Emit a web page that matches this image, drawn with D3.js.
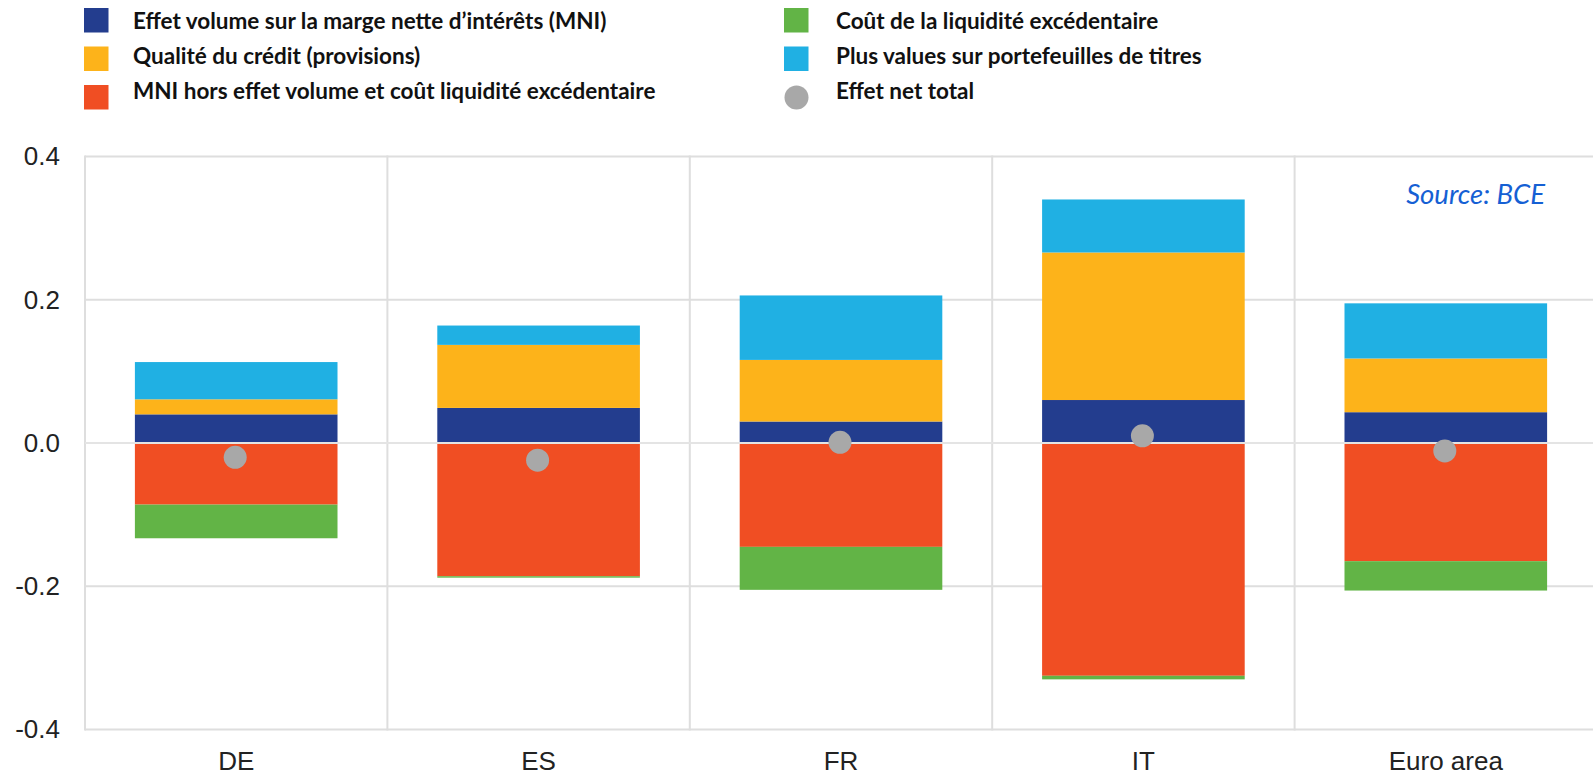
<!DOCTYPE html>
<html>
<head>
<meta charset="utf-8">
<script src="https://cdn.jsdelivr.net/npm/d3@7"></script>
<style>
  html, body { margin: 0; padding: 0; background: #ffffff; }
  svg { display: block; }
</style>
</head>
<body>
<svg id="chart" width="1593" height="776"></svg>
<script>
// Contributions to bank profitability, by country
const categories = ["DE", "ES", "FR", "IT", "Euro area"];
const volumeEffect    = [0.040, 0.049, 0.030, 0.060, 0.043];
const creditQuality   = [0.021, 0.088, 0.086, 0.206, 0.075];
const nimExVolume     = [-0.086, -0.186, -0.145, -0.325, -0.165];
const excessLiquidity = [-0.047, -0.002, -0.060, -0.005, -0.041];
const securitiesGains = [0.052, 0.027, 0.090, 0.074, 0.077];
const netEffect       = [-0.020, -0.024, 0.001, 0.010, -0.011];

const yTicks = [0.4, 0.2, 0.0, -0.2, -0.4];
const yTickLabels = ["0.4", "0.2", "0.0", "-0.2", "-0.4"];

const seriesKeys = ["volume", "credit", "nim", "liquidity", "securities"];
const seriesLabels = {
  volume: "Effet volume sur la marge nette d\u2019intérêts (MNI)",
  credit: "Qualité du crédit (provisions)",
  nim: "MNI hors effet volume et coût liquidité excédentaire",
  liquidity: "Coût de la liquidité excédentaire",
  securities: "Plus values sur portefeuilles de titres"
};
const netLabel = "Effet net total";
const sourceLabel = "Source: BCE";

const colors = {
  volume: "#233d8e",
  credit: "#fdb31a",
  nim: "#f04e23",
  liquidity: "#62b446",
  securities: "#20b0e3",
  net: "#a8a8a8"
};

const rows = categories.map((c, i) => ({
  category: c,
  volume: volumeEffect[i],
  credit: creditQuality[i],
  nim: nimExVolume[i],
  liquidity: excessLiquidity[i],
  securities: securitiesGains[i],
  net: netEffect[i]
}));

const svg = d3.select("#chart");

const plot = { left: 85, right: 1597, top: 156.5, bottom: 729.5 };

const x = d3.scaleBand()
  .domain(categories)
  .range([plot.left, plot.right])
  .paddingInner(0)
  .paddingOuter(0);

const y = d3.scaleLinear()
  .domain([-0.4, 0.4])
  .range([plot.bottom, plot.top]);

const gridColor = "#dedede";

// Horizontal grid
svg.append("g")
  .selectAll("line")
  .data(yTicks)
  .join("line")
  .attr("x1", plot.left)
  .attr("x2", plot.right)
  .attr("y1", d => y(d))
  .attr("y2", d => y(d))
  .attr("stroke", gridColor)
  .attr("stroke-width", 2);

// Vertical separators between categories
svg.append("g")
  .selectAll("line")
  .data(categories)
  .join("line")
  .attr("x1", d => x(d))
  .attr("x2", d => x(d))
  .attr("y1", plot.top - 1)
  .attr("y2", plot.bottom + 1)
  .attr("stroke", gridColor)
  .attr("stroke-width", 2);

// Stacked bars, positives up and negatives down
const stack = d3.stack()
  .keys(seriesKeys)
  .offset(d3.stackOffsetDiverging);
const stacked = stack(rows);

const barWidth = x.bandwidth() * 0.67;
const barOffset = (x.bandwidth() - barWidth) / 2;

svg.append("g")
  .selectAll("g")
  .data(stacked)
  .join("g")
  .attr("fill", d => colors[d.key])
  .selectAll("rect")
  .data(d => d)
  .join("rect")
  .attr("x", d => x(d.data.category) + barOffset)
  .attr("width", barWidth)
  .attr("y", d => y(Math.max(d[0], d[1])))
  .attr("height", d => Math.abs(y(d[0]) - y(d[1])));

// Zero line sits on top of the bars
svg.append("line")
  .attr("x1", plot.left)
  .attr("x2", plot.right)
  .attr("y1", y(0))
  .attr("y2", y(0))
  .attr("stroke", "#e4e4e4")
  .attr("stroke-width", 2);

// Net effect markers
svg.append("g")
  .selectAll("circle")
  .data(rows)
  .join("circle")
  .attr("cx", d => x(d.category) + x.bandwidth() / 2 - 1)
  .attr("cy", d => y(d.net))
  .attr("r", 11.5)
  .attr("fill", colors.net);

// Y axis labels
const yAxis = d3.axisLeft(y)
  .tickValues(yTicks)
  .tickFormat((d, i) => yTickLabels[i])
  .tickSize(0)
  .tickPadding(0);
const yg = svg.append("g")
  .attr("transform", `translate(${plot.left - 25},0)`)
  .call(yAxis);
yg.select(".domain").remove();
yg.selectAll("text")
  .attr("font-family", "Liberation Sans, Arial, sans-serif")
  .attr("font-size", 26)
  .attr("fill", "#222222");

// X axis labels
const xAxis = d3.axisBottom(x).tickSize(0).tickPadding(0);
const xg = svg.append("g")
  .attr("transform", `translate(0,${plot.bottom + 22})`)
  .call(xAxis);
xg.select(".domain").remove();
xg.selectAll("text")
  .attr("font-family", "Liberation Sans, Arial, sans-serif")
  .attr("font-size", 26)
  .attr("fill", "#222222");

// Source note
svg.append("text")
  .attr("x", 1545)
  .attr("y", 204)
  .attr("text-anchor", "end")
  .attr("font-family", "Lato, sans-serif")
  .attr("font-style", "italic")
  .attr("font-size", 27.5)
  .attr("fill", "#1560d4")
  .text(sourceLabel);

// Legend
const legendItems = [
  { key: "volume", col: 0, row: 0 },
  { key: "credit", col: 0, row: 1 },
  { key: "nim", col: 0, row: 2 },
  { key: "liquidity", col: 1, row: 0 },
  { key: "securities", col: 1, row: 1 },
  { key: "net", col: 1, row: 2 }
];
const legendCols = [{ sx: 84, tx: 133 }, { sx: 784, tx: 836 }];
const rowSquareY = [8, 46.5, 85];
const rowTextY = [28.5, 63.5, 99];

const legend = svg.append("g");
legendItems.forEach(item => {
  const col = legendCols[item.col];
  if (item.key === "net") {
    legend.append("circle")
      .attr("cx", col.sx + 12.5)
      .attr("cy", rowSquareY[item.row] + 12.5)
      .attr("r", 12)
      .attr("fill", colors.net);
  } else {
    legend.append("rect")
      .attr("x", col.sx)
      .attr("y", rowSquareY[item.row])
      .attr("width", 24.5)
      .attr("height", 24.5)
      .attr("fill", colors[item.key]);
  }
  legend.append("text")
    .attr("x", col.tx)
    .attr("y", rowTextY[item.row])
    .attr("font-family", "Lato, sans-serif")
    .attr("font-weight", "bold")
    .attr("font-size", 22.5)
    .attr("fill", "#111111")
    .text(item.key === "net" ? netLabel : seriesLabels[item.key]);
});
</script>
</body>
</html>
